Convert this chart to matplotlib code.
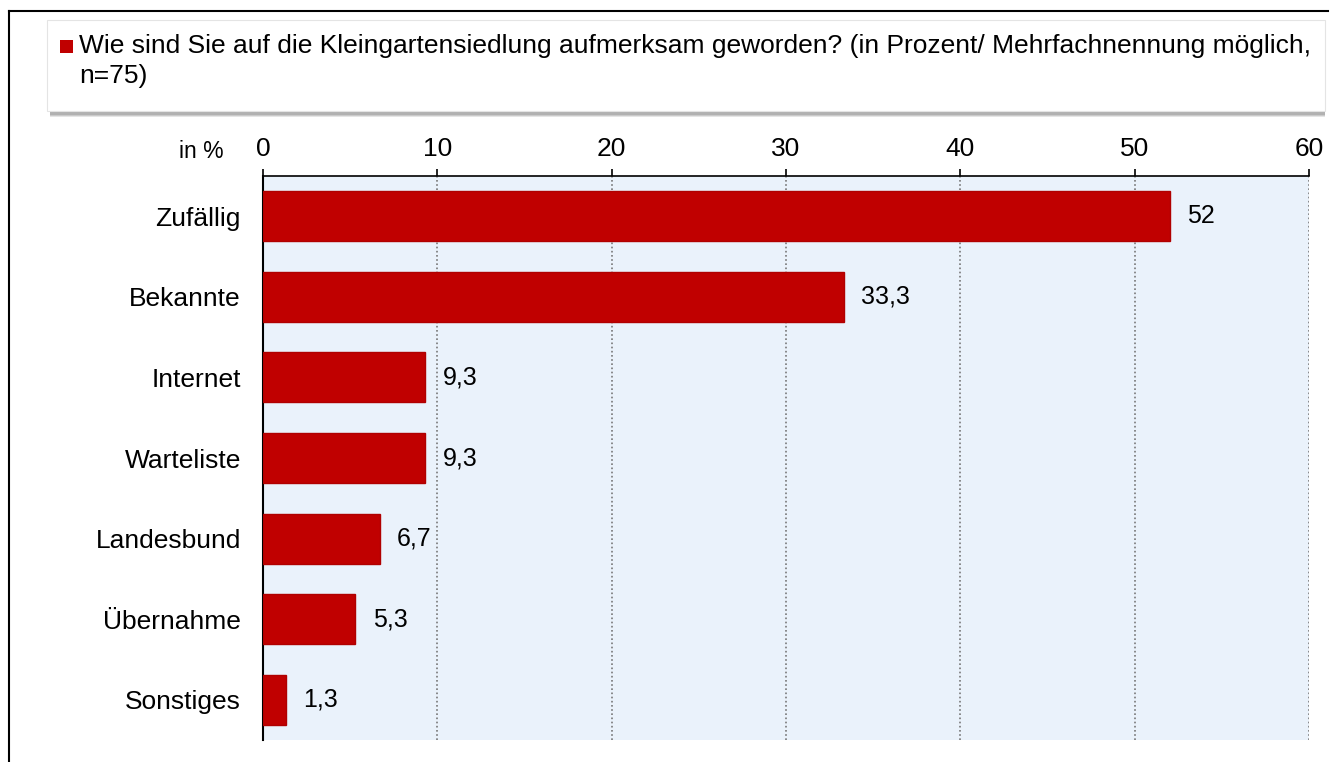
import numpy as np
import matplotlib.pyplot as plt
from matplotlib.patches import Rectangle

categories = ["Zufällig", "Bekannte", "Internet", "Warteliste", "Landesbund", "Übernahme", "Sonstiges"]
values = [52, 33.3, 9.3, 9.3, 6.7, 5.3, 1.3]
xticks = [0, 10, 20, 30, 40, 50, 60]
title = ("Wie sind Sie auf die Kleingartensiedlung aufmerksam geworden? "
         "(in Prozent/ Mehrfachnennung möglich,\nn=75)")

plt.rcParams['font.family'] = ['Liberation Sans', 'DejaVu Sans']

fig = plt.figure(figsize=(13.31, 7.62), dpi=100)
W, H = 1331, 762

# outer frame (top and left edge)
fig.add_artist(plt.Line2D([9 / W, 1 - 3 / W], [1 - 11 / H, 1 - 11 / H], color='black', lw=1.5))
fig.add_artist(plt.Line2D([9 / W, 9 / W], [0, 1 - 11 / H], color='black', lw=1.5))

# legend box with soft shadow underneath
for k, a in enumerate([0.25, 0.35, 0.5]):
    fig.add_artist(Rectangle((50 / W, 1 - (117 - k) / H), 1275 / W, 92 / H, transform=fig.transFigure,
                             facecolor='#9a9a9a', edgecolor='none', alpha=a))
fig.add_artist(Rectangle((47 / W, 1 - 111 / H), 1278 / W, 91 / H, transform=fig.transFigure,
                         facecolor='white', edgecolor='#e4e4e4', lw=0.8))
fig.add_artist(Rectangle((60 / W, 1 - 53 / H), 13 / W, 13 / H, transform=fig.transFigure,
                         facecolor='#C00000', edgecolor='none'))
fig.text(79 / W, 1 - 34 / H, title, fontsize=19, ha='left', va='top', linespacing=1.3)

ax = fig.add_axes([263 / W, 1 - 740 / H, (1309 - 263) / W, (740 - 176) / H])
ax.set_facecolor('#EAF2FB')

y = np.arange(len(categories))
ax.barh(y, values, height=0.62, color='#C00000', edgecolor='#B00000', zorder=3)
for yi, v in zip(y, values):
    ax.text(v + 1.0, yi, f"{v:g}".replace('.', ','), va='center', ha='left', fontsize=18)

ax.set_xlim(0, 60)
ax.set_ylim(len(categories) - 0.5, -0.5)
ax.set_yticks(y)
ax.set_yticklabels(categories, fontsize=19)
ax.tick_params(axis='y', length=0, pad=16)

ax.xaxis.tick_top()
ax.set_xticks(xticks)
ax.set_xticklabels([str(t) for t in xticks], fontsize=19)
ax.tick_params(axis='x', direction='out', length=5, width=1.2, pad=6)
ax.grid(axis='x', linestyle=(0, (1, 1.5)), color='#777777', lw=1.2, zorder=1)

for side in ['right', 'bottom']:
    ax.spines[side].set_visible(False)
ax.spines['top'].set_linewidth(1.2)
ax.spines['left'].set_linewidth(1.5)

fig.text(201 / W, 1 - 151 / H, "in %", fontsize=16.5, ha='center', va='center')

fig.savefig("out.png", dpi=100)
